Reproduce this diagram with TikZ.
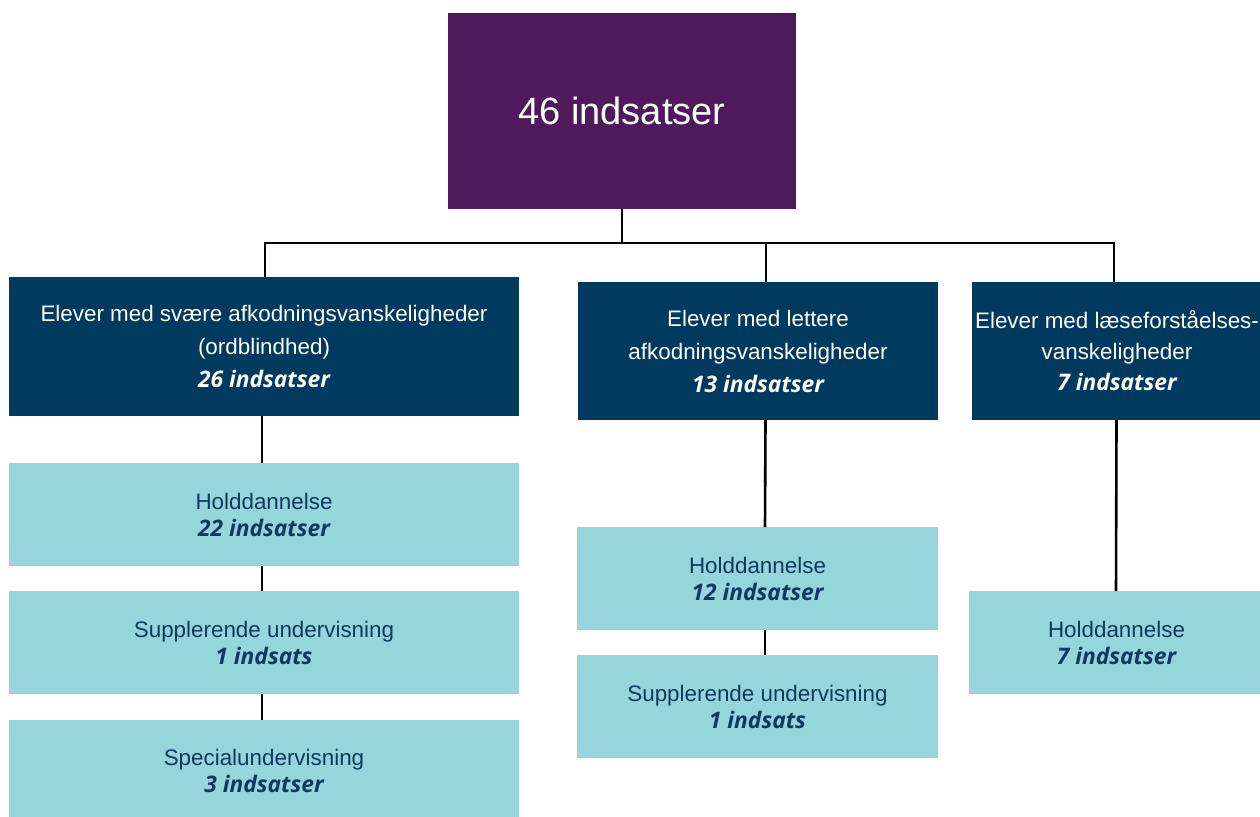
\documentclass[tikz,border=0pt]{standalone}
\usepackage{fontspec}
\setmainfont{Liberation Sans}
\newfontfamily\osfam{Open Sans}
\newcommand\bic[1]{{\osfam\bfseries\itshape\fontsize{22.8}{27}\selectfont #1}}
\definecolor{purp}{HTML}{4E1A5B}
\definecolor{navy}{HTML}{003A5E}
\definecolor{lightc}{HTML}{96D5DC}
\definecolor{ink}{HTML}{0E3B5C}
\begin{document}
\begin{tikzpicture}[x=1pt,y=-1pt,
  box/.style={inner sep=0pt, outer sep=0pt, align=center, anchor=center},
  darkbox/.style={box, fill=navy, text=white, font=\fontsize{22.4}{33}\selectfont},
  litebox/.style={box, fill=lightc, text=ink, font=\fontsize{22.4}{27}\selectfont},
  conn/.style={line width=2.6pt, black}]
\useasboundingbox (0,0) rectangle (1260,816);
\clip (0,0) rectangle (1260,816);
\fill[white] (0,0) rectangle (1260,816);

% top
\node[box, fill=purp, text=white, minimum width=348pt, minimum height=196pt,
  font=\fontsize{38}{42}\selectfont] (top) at (622,111) {46 indsatser};

% level 1
\node[darkbox, minimum width=510pt, minimum height=139pt] (L1) at (264,346.5)
  {Elever med svære afkodningsvanskeligheder\\(ordblindhed)\\\bic{26 indsatser}};
\node[darkbox, minimum width=360pt, minimum height=138pt] (M1) at (758,351)
  {Elever med lettere\\afkodningsvanskeligheder\\\bic{13 indsatser}};
\node[darkbox, minimum width=290pt, minimum height=138pt, font=\fontsize{22.4}{31}\selectfont] (R1) at (1117,351)
  {Elever med læseforståelses-\\vanskeligheder\\\bic{7 indsatser}};

% level 2 left
\node[litebox, minimum width=510pt, minimum height=103pt] (L2) at (264,514.5)
  {Holddannelse\\\bic{22 indsatser}};
\node[litebox, minimum width=510pt, minimum height=103pt] (L3) at (264,642.5)
  {Supplerende undervisning\\\bic{1 indsats}};
\node[litebox, minimum width=510pt, minimum height=103pt] (L4) at (264,771)
  {Specialundervisning\\\bic{3 indsatser}};

% level 2 middle
\node[litebox, minimum width=361pt, minimum height=103pt] (M2) at (757.5,578.5)
  {Holddannelse\\\bic{12 indsatser}};
\node[litebox, minimum width=361pt, minimum height=103pt] (M3) at (757.5,706.5)
  {Supplerende undervisning\\\bic{1 indsats}};

% level 2 right
\node[litebox, minimum width=295pt, minimum height=103pt] (R2) at (1116.5,642.5)
  {Holddannelse\\\bic{7 indsatser}};

% connectors
\coordinate (busL) at (265,243);
\coordinate (busM) at (766,243);
\coordinate (busR) at (1114,243);
\draw[conn] (top.south) -- (top.south |- busL);
\draw[conn, line cap=rect] (busL) -- (busR);
\draw[conn] (busL) -- (busL |- L1.north);
\draw[conn] (busM) -- (busM |- M1.north);
\draw[conn] (busR) -- (busR |- R1.north);

\draw[conn] ([xshift=-2pt]L1.south) -- ([xshift=-2pt]L2.north);
\draw[conn] ([xshift=-2pt]L2.south) -- ([xshift=-2pt]L3.north);
\draw[conn] ([xshift=-2pt]L3.south) -- ([xshift=-2pt]L4.north);
\draw[conn] ([xshift=7.5pt]M1.south) -- ([xshift=7.5pt]M2.north);
\draw[conn] ([xshift=7.5pt]M2.south) -- ([xshift=7.5pt]M3.north);
\draw[conn] ([xshift=-0.5pt]R1.south) -- ([xshift=-0.5pt]R2.north);
\end{tikzpicture}
\end{document}
